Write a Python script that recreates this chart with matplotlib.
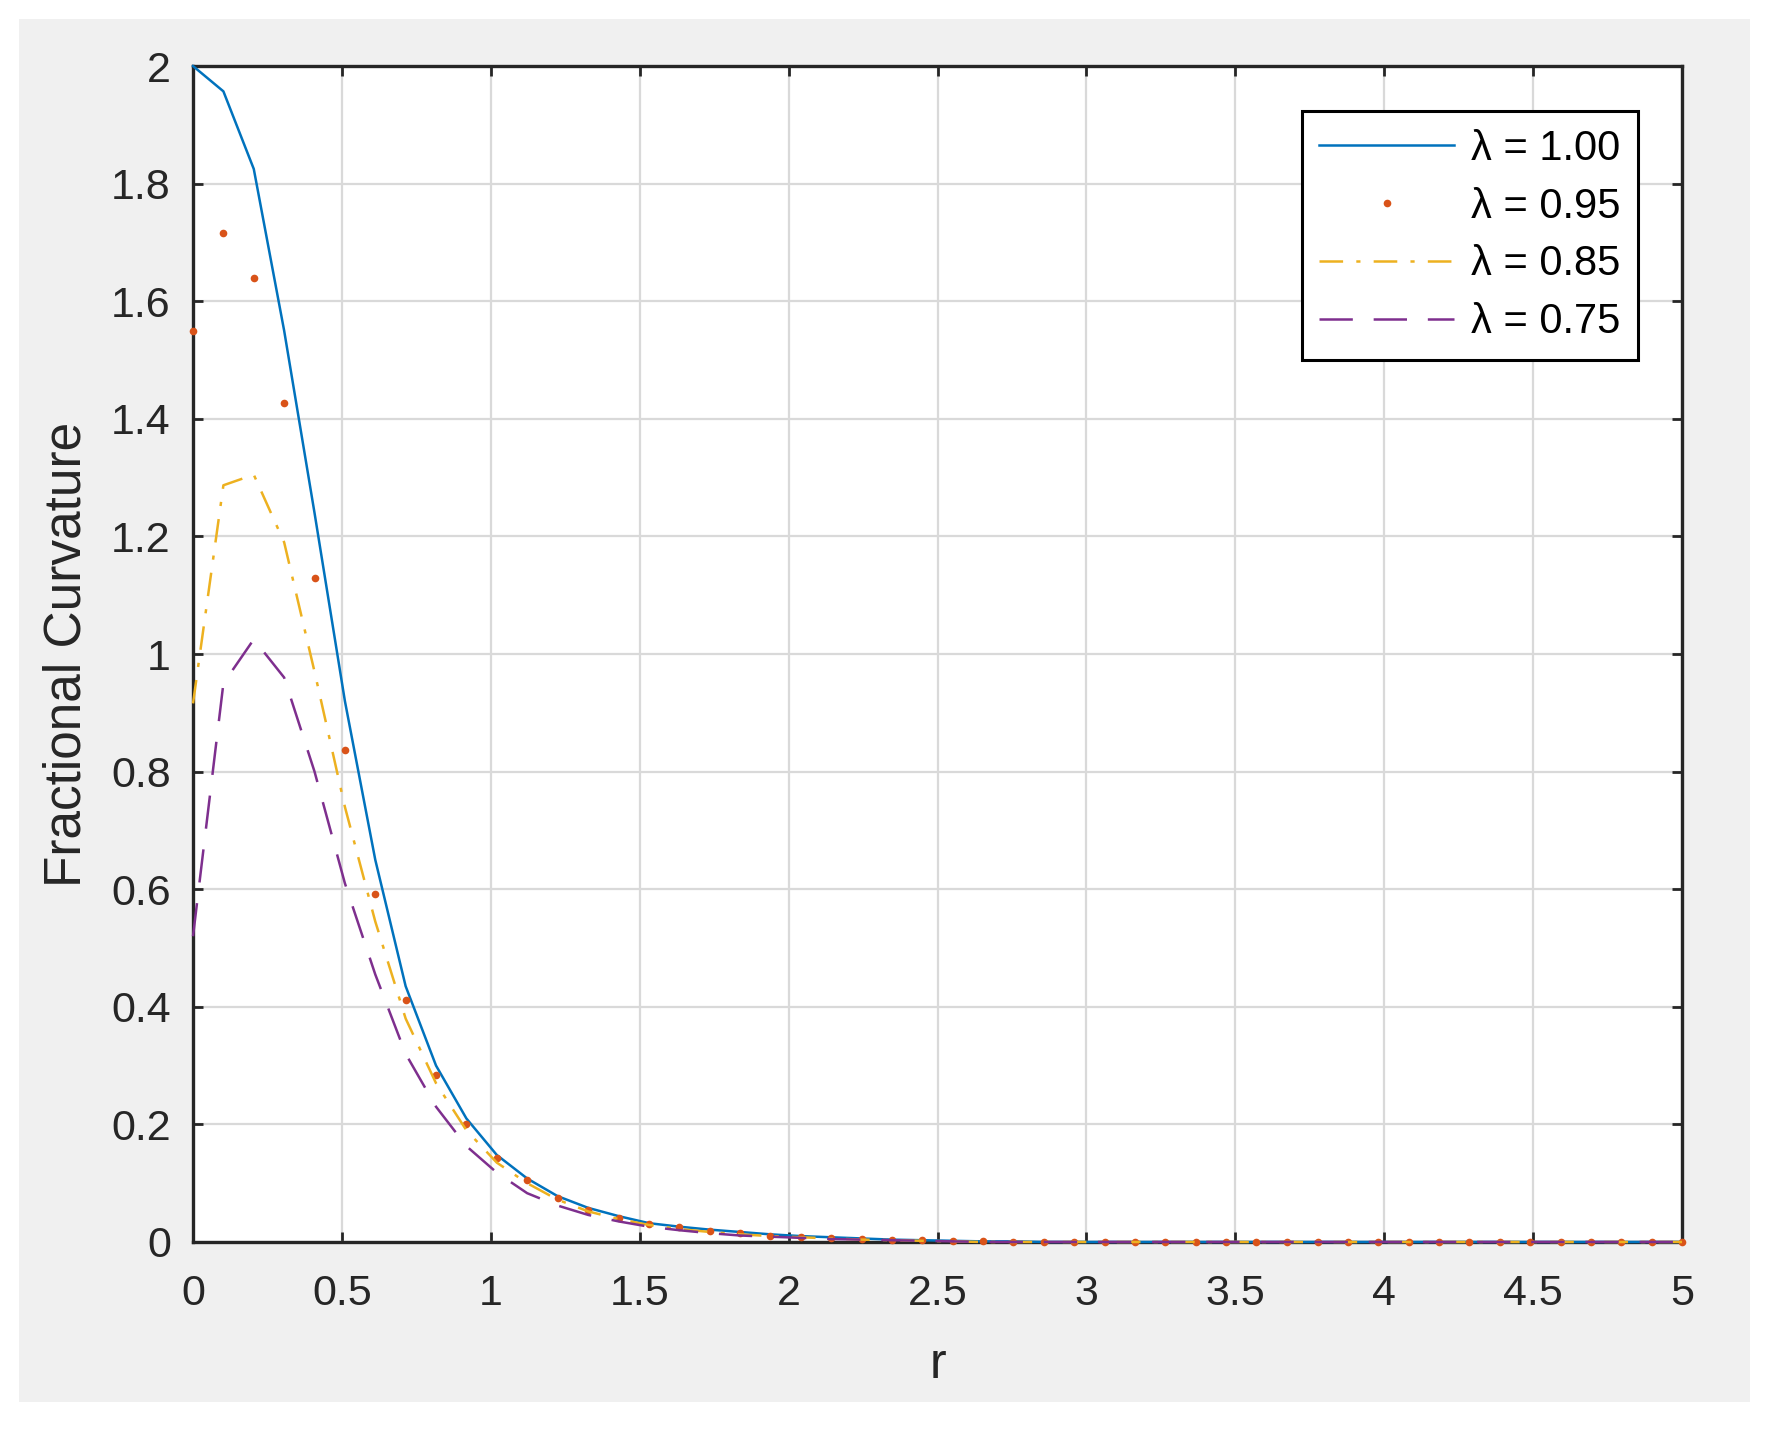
import matplotlib
matplotlib.use('Agg')
import matplotlib.pyplot as plt
from matplotlib.patches import Rectangle

plt.rcParams['font.family'] = ['Liberation Sans', 'DejaVu Sans']
plt.rcParams['lines.scale_dashes'] = False

# radial grid (50 samples on [0, 5])
r = [0.000, 0.102, 0.204, 0.306, 0.408, 0.510, 0.612, 0.714, 0.816, 0.918,
     1.020, 1.122, 1.224, 1.327, 1.429, 1.531, 1.633, 1.735, 1.837, 1.939,
     2.041, 2.143, 2.245, 2.347, 2.449, 2.551, 2.653, 2.755, 2.857, 2.959,
     3.061, 3.163, 3.265, 3.367, 3.469, 3.571, 3.673, 3.776, 3.878, 3.980,
     4.082, 4.184, 4.286, 4.388, 4.490, 4.592, 4.694, 4.796, 4.898, 5.000]

curv_100 = [2.000, 1.957, 1.825, 1.550, 1.240, 0.920, 0.650, 0.435, 0.300, 0.210,
            0.148, 0.108, 0.078, 0.058, 0.044, 0.032, 0.026, 0.021, 0.017, 0.013,
            0.010, 0.008, 0.006, 0.004, 0.003, 0.002, 0.001, 0.001, 0.0, 0.0,
            0.0, 0.0, 0.0, 0.0, 0.0, 0.0, 0.0, 0.0, 0.0, 0.0,
            0.0, 0.0, 0.0, 0.0, 0.0, 0.0, 0.0, 0.0, 0.0, 0.0]
curv_095 = [1.550, 1.716, 1.640, 1.427, 1.130, 0.836, 0.592, 0.412, 0.284, 0.200,
            0.143, 0.105, 0.074, 0.055, 0.041, 0.031, 0.025, 0.019, 0.015, 0.011,
            0.009, 0.007, 0.005, 0.004, 0.003, 0.002, 0.001, 0.0, 0.0, 0.0,
            0.0, 0.0, 0.0, 0.0, 0.0, 0.0, 0.0, 0.0, 0.0, 0.0,
            0.0, 0.0, 0.0, 0.0, 0.0, 0.0, 0.0, 0.0, 0.0, 0.0]
curv_085 = [0.916, 1.287, 1.305, 1.190, 0.970, 0.740, 0.545, 0.380, 0.270, 0.190,
            0.135, 0.100, 0.072, 0.052, 0.039, 0.029, 0.022, 0.017, 0.013, 0.010,
            0.008, 0.006, 0.004, 0.003, 0.002, 0.001, 0.0, 0.0, 0.0, 0.0,
            0.0, 0.0, 0.0, 0.0, 0.0, 0.0, 0.0, 0.0, 0.0, 0.0,
            0.0, 0.0, 0.0, 0.0, 0.0, 0.0, 0.0, 0.0, 0.0, 0.0]
curv_075 = [0.520, 0.950, 1.025, 0.960, 0.800, 0.610, 0.455, 0.320, 0.230, 0.163,
            0.118, 0.083, 0.062, 0.046, 0.035, 0.026, 0.020, 0.015, 0.011, 0.009,
            0.007, 0.005, 0.004, 0.003, 0.002, 0.001, 0.0, 0.0, 0.0, 0.0,
            0.0, 0.0, 0.0, 0.0, 0.0, 0.0, 0.0, 0.0, 0.0, 0.0,
            0.0, 0.0, 0.0, 0.0, 0.0, 0.0, 0.0, 0.0, 0.0, 0.0]

labels = ['λ = 1.00', 'λ = 0.95', 'λ = 0.85', 'λ = 0.75']
xticks = [0, 0.5, 1, 1.5, 2, 2.5, 3, 3.5, 4, 4.5, 5]
yticks = [0, 0.2, 0.4, 0.6, 0.8, 1, 1.2, 1.4, 1.6, 1.8, 2]

fig = plt.figure(figsize=(17.79, 14.33), dpi=100, facecolor='white')
# grey matlab figure panel, behind the axes
fig.patches.append(Rectangle((0.0107, 0.0216), 0.973, 0.9651, transform=fig.transFigure,
                             facecolor='#f0f0f0', edgecolor='none', zorder=-10))
ax = fig.add_axes([0.1085, 0.1333, 0.837, 0.8206])
ax.set_facecolor('white')

lw = 1.8
ax.plot(r, curv_100, color='#0072BD', lw=lw, label=labels[0], clip_on=False, zorder=3)
ax.plot(r, curv_095, color='#D95319', ls='none', marker='o', ms=5.5, mec='none',
        label=labels[1], clip_on=False, zorder=3)
ax.plot(r, curv_085, color='#EDB120', lw=lw, dashes=(17, 9.5, 3, 9.5),
        label=labels[2], clip_on=False, zorder=3)
ax.plot(r, curv_075, color='#7E2F8E', lw=lw, dashes=(24, 15),
        label=labels[3], clip_on=False, zorder=3)

ax.set_xlim(0, 5)
ax.set_ylim(0, 2)
ax.set_xticks(xticks)
ax.set_xticklabels(['%g' % t for t in xticks])
ax.set_yticks(yticks)
ax.set_yticklabels(['%g' % t for t in yticks])
ax.grid(True, color='#d9d9d9', lw=1.6)
ax.set_axisbelow(True)
ax.tick_params(direction='in', length=7, width=2, top=True, right=True,
               labelsize=31, colors='#262626')
ax.tick_params(axis='x', pad=23)
ax.tick_params(axis='y', pad=16)
for s in ax.spines.values():
    s.set_linewidth(2.4)
    s.set_color('#262626')

ax.set_xlabel('r', fontsize=36, color='#262626')
ax.set_ylabel('Fractional Curvature', fontsize=37, color='#262626')
ax.xaxis.set_label_coords(0.5, -0.085)
ax.yaxis.set_label_coords(-0.068, 0.5)

leg = ax.legend(loc='upper right', bbox_to_anchor=(0.9705, 0.9617), borderaxespad=0,
                fontsize=30, handlelength=3.25, labelspacing=0.43, handletextpad=0.4,
                borderpad=0.42, fancybox=False, framealpha=1, markerfirst=True)
leg.get_frame().set_edgecolor('#000000')
leg.get_frame().set_linewidth(2.2)

fig.savefig('out.png', dpi=100, facecolor='white')
